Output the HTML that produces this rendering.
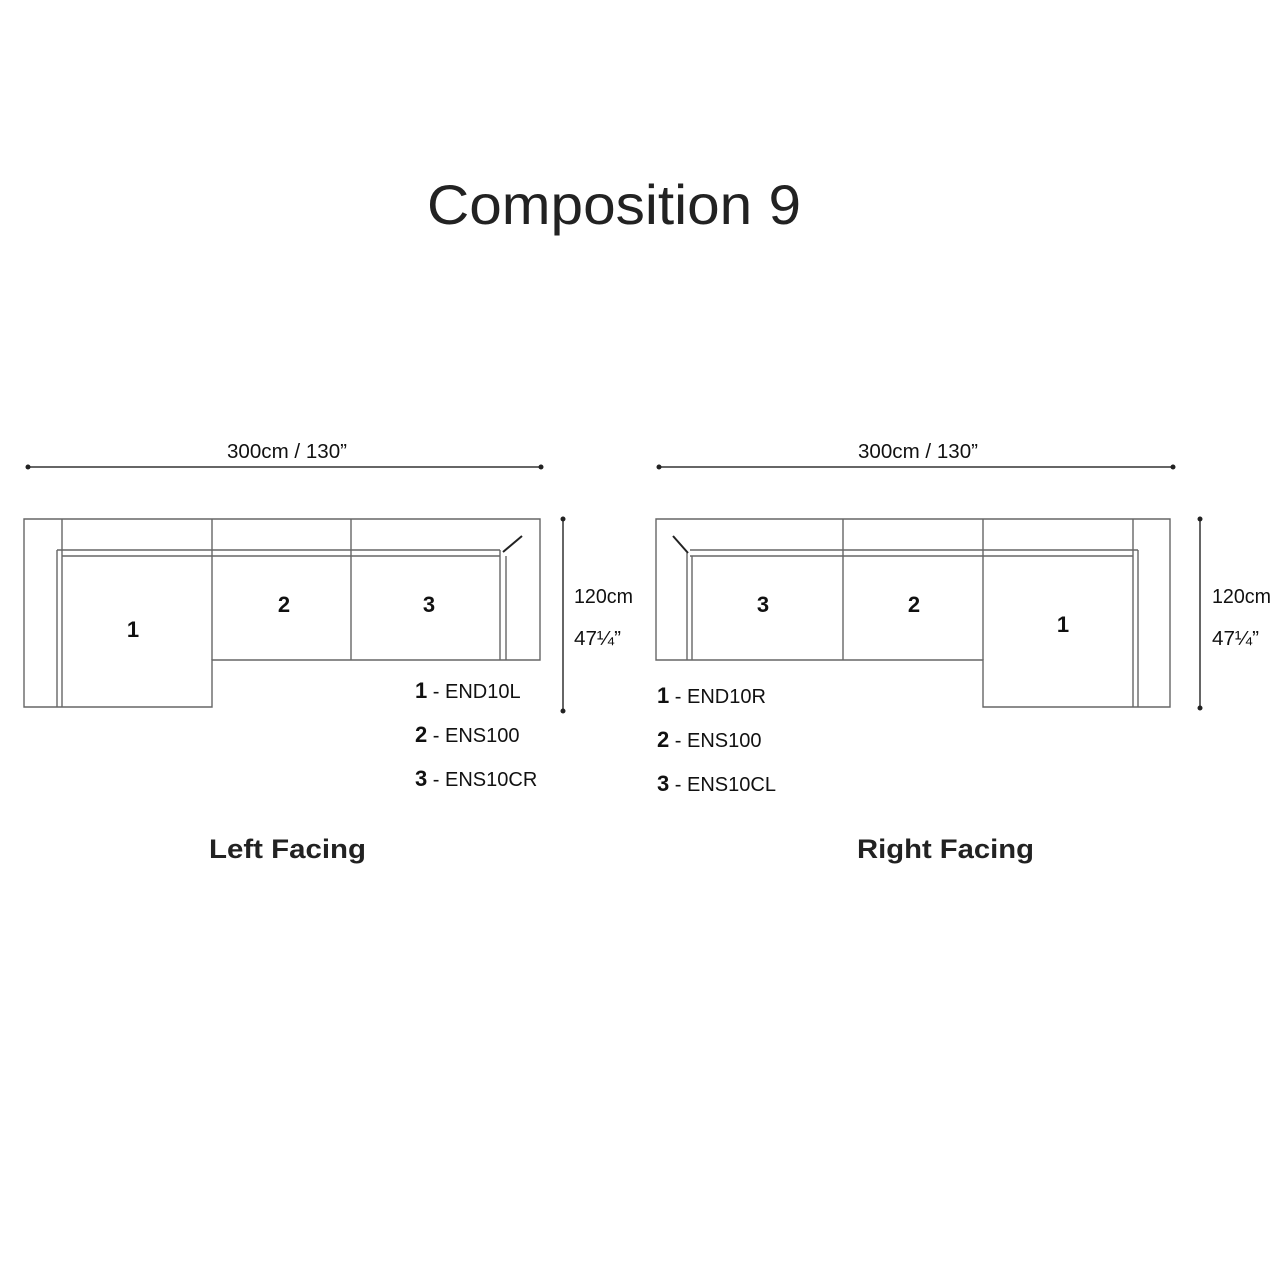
<!DOCTYPE html>
<html><head><meta charset="utf-8"><style>
html,body{margin:0;padding:0;background:#fff;}
svg{display:block}
.c{font-family:"Liberation Sans Narrow","Liberation Sans",sans-serif;fill:#111;}
</style></head><body>
<svg width="1280" height="1280" viewBox="0 0 1280 1280" xmlns="http://www.w3.org/2000/svg">
<text x="427" y="224" textLength="374" lengthAdjust="spacingAndGlyphs" font-family="Liberation Sans, sans-serif" font-size="56" fill="#222">Composition 9</text>

<g stroke="#666" stroke-width="1.4" fill="none">
<!-- LEFT -->
<path d="M24 519 H540 V660 H212 V707 H24 Z"/>
<line x1="62" y1="519" x2="62" y2="707"/>
<line x1="57" y1="550" x2="57" y2="707"/>
<line x1="57" y1="550" x2="500" y2="550"/>
<line x1="62" y1="556" x2="500" y2="556"/>
<line x1="212" y1="519" x2="212" y2="660"/>
<line x1="351" y1="519" x2="351" y2="660"/>
<line x1="500" y1="550" x2="500" y2="660"/>
<line x1="506" y1="556" x2="506" y2="660"/>
<line x1="503" y1="552" x2="522" y2="536" stroke="#222" stroke-width="2"/>
<!-- RIGHT -->
<path d="M656 519 H1170 V707 H983 V660 H656 Z"/>
<line x1="1133" y1="519" x2="1133" y2="707"/>
<line x1="1138" y1="550" x2="1138" y2="707"/>
<line x1="690" y1="550" x2="1138" y2="550"/>
<line x1="690" y1="556" x2="1133" y2="556"/>
<line x1="843" y1="519" x2="843" y2="660"/>
<line x1="983" y1="519" x2="983" y2="660"/>
<line x1="687" y1="553" x2="687" y2="660"/>
<line x1="692" y1="556" x2="692" y2="660"/>
<line x1="688" y1="553" x2="673" y2="536" stroke="#222" stroke-width="2"/>
</g>

<g stroke="#333" stroke-width="1.5">
<line x1="28" y1="467" x2="541" y2="467"/>
<line x1="659" y1="467" x2="1173" y2="467"/>
<line x1="563" y1="519" x2="563" y2="711"/>
<line x1="1200" y1="519" x2="1200" y2="708"/>
</g>
<g fill="#222">
<circle cx="28" cy="467" r="2.5"/><circle cx="541" cy="467" r="2.5"/>
<circle cx="659" cy="467" r="2.5"/><circle cx="1173" cy="467" r="2.5"/>
<circle cx="563" cy="519" r="2.5"/><circle cx="563" cy="711" r="2.5"/>
<circle cx="1200" cy="519" r="2.5"/><circle cx="1200" cy="708" r="2.5"/>
</g>

<g class="c" font-size="20">
<text x="227" y="458" textLength="120" lengthAdjust="spacingAndGlyphs">300cm / 130”</text>
<text x="858" y="458" textLength="120" lengthAdjust="spacingAndGlyphs">300cm / 130”</text>
<text x="574" y="603" textLength="59" lengthAdjust="spacingAndGlyphs">120cm</text>
<text x="574" y="645" textLength="47" lengthAdjust="spacingAndGlyphs">47¼”</text>
<text x="1212" y="603" textLength="59" lengthAdjust="spacingAndGlyphs">120cm</text>
<text x="1212" y="645" textLength="47" lengthAdjust="spacingAndGlyphs">47¼”</text>
</g>
<g class="c" font-size="22" font-weight="bold" text-anchor="middle">
<text x="133" y="637">1</text><text x="284" y="612">2</text><text x="429" y="612">3</text>
<text x="763" y="612">3</text><text x="914" y="612">2</text><text x="1063" y="632">1</text>
</g>
<g class="c" font-size="20">
<text x="415" y="698"><tspan font-weight="bold" font-size="22">1</tspan> - END10L</text>
<text x="415" y="742"><tspan font-weight="bold" font-size="22">2</tspan> - ENS100</text>
<text x="415" y="786"><tspan font-weight="bold" font-size="22">3</tspan> - ENS10CR</text>
<text x="657" y="703"><tspan font-weight="bold" font-size="22">1</tspan> - END10R</text>
<text x="657" y="747"><tspan font-weight="bold" font-size="22">2</tspan> - ENS100</text>
<text x="657" y="791"><tspan font-weight="bold" font-size="22">3</tspan> - ENS10CL</text>
</g>
<g font-family="Liberation Sans, sans-serif" font-size="27" font-weight="bold" fill="#222">
<text x="209" y="858" textLength="157" lengthAdjust="spacingAndGlyphs">Left Facing</text>
<text x="857" y="858" textLength="177" lengthAdjust="spacingAndGlyphs">Right Facing</text>
</g>
</svg>
</body></html>
